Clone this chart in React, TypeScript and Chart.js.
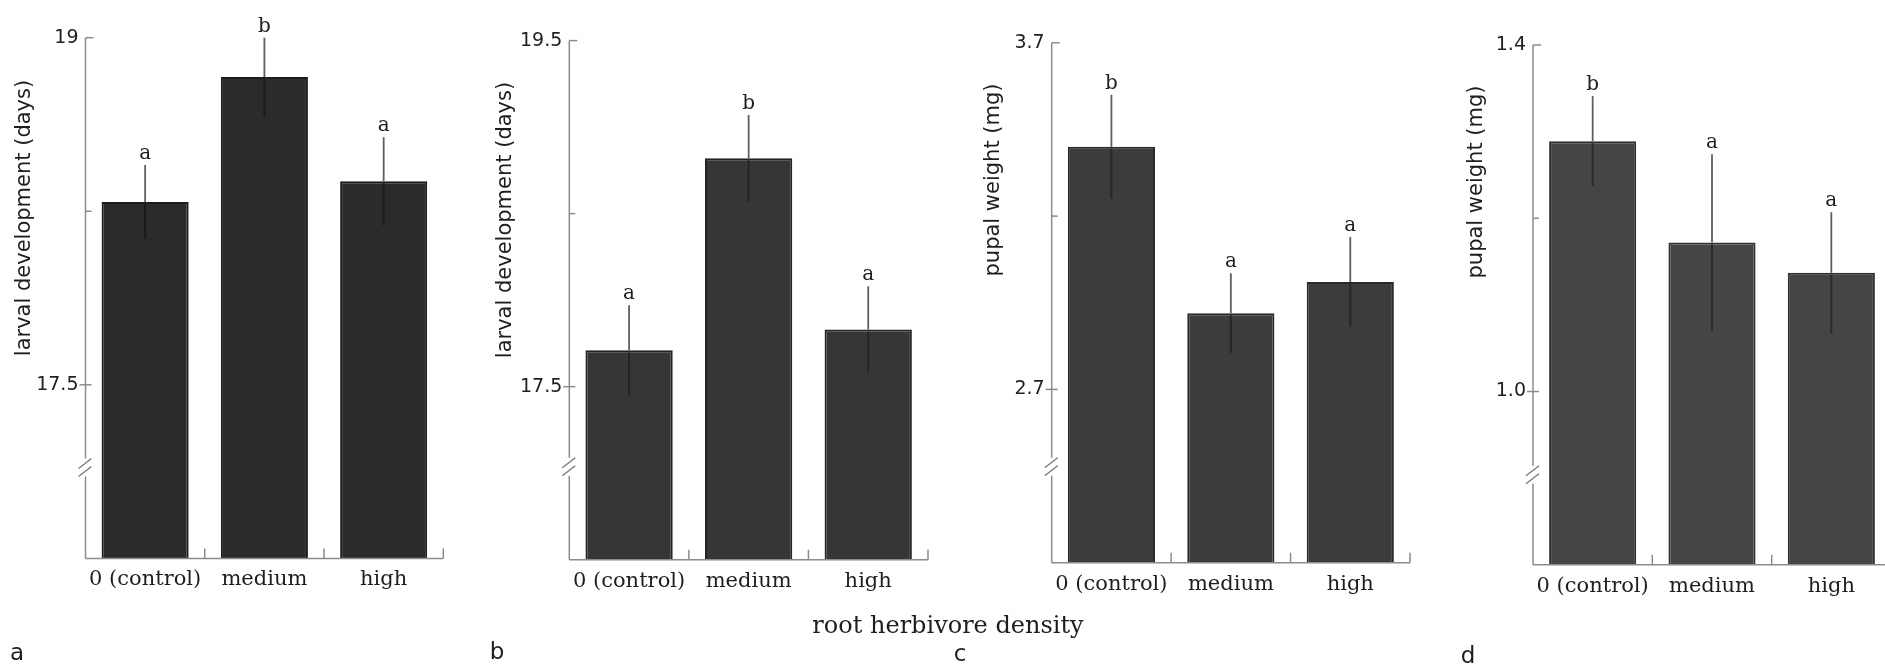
import React, { useEffect, useRef } from 'react';
import { Chart, registerables } from 'chart.js';

Chart.register(...registerables);

// ---------- data ----------
const categories = ['0 (control)', 'medium', 'high'];

const larvalA = [18.29, 18.83, 18.38];
const larvalASE = [0.16, 0.17, 0.19];
const larvalALetters = ['a', 'b', 'a'];
const larvalATicks = [16.75, 17.5, 18.25, 19];
const larvalATickLabels = ['', '17.5', '', '19'];

const larvalB = [17.71, 18.82, 17.83];
const larvalBSE = [0.26, 0.25, 0.25];
const larvalBLetters = ['a', 'b', 'a'];
const larvalBTicks = [16.5, 17.5, 18.5, 19.5];
const larvalBTickLabels = ['', '17.5', '', '19.5'];

const pupalC = [3.4, 2.92, 3.01];
const pupalCSE = [0.15, 0.115, 0.13];
const pupalCLetters = ['b', 'a', 'a'];
const pupalCTicks = [2.2, 2.7, 3.2, 3.7];
const pupalCTickLabels = ['', '2.7', '', '3.7'];

const pupalD = [1.289, 1.172, 1.137];
const pupalDSE = [0.052, 0.102, 0.07];
const pupalDLetters = ['b', 'a', 'a'];
const pupalDTicks = [0.8, 1.0, 1.2, 1.4];
const pupalDTickLabels = ['', '1.0', '', '1.4'];

const yTitleLarval = 'larval development (days)';
const yTitlePupal = 'pupal weight (mg)';
const xTitle = 'root herbivore density';

// ---------- layout / style ----------
const H = 671;
const SANS = '"DejaVu Sans", sans-serif';
const SERIF = '"DejaVu Serif", serif';
const TEXT = '#1e1e1e';
const AXIS = '#8c8c8c';

type Panel = {
  values: number[];
  se: number[];
  letters: string[];
  ticks: number[];
  tickLabels: string[];
  yTitle: string;
  panelLetter: string;
  left: number;
  width: number;
  yWidth: number;
  padTop: number;
  padRight: number;
  xHeight: number;
  barColor: string;
  barBorder: string;
  innerErr: string;
  titleX: number;
  titleY: number;
  letterX: number;
  letterY: number;
  breakFromBottom: number;
  xTitle?: { x: number; y: number };
};

const panels: Panel[] = [
  {
    values: larvalA, se: larvalASE, letters: larvalALetters, ticks: larvalATicks, tickLabels: larvalATickLabels,
    yTitle: yTitleLarval, panelLetter: 'a',
    left: 0, width: 470, yWidth: 85.5, padTop: 37.7, padRight: 26.7, xHeight: H - 558.4,
    barColor: '#2b2b2b', barBorder: '#1c1c1c', innerErr: '#1a1a1a',
    titleX: 25, titleY: 218, letterX: 17, letterY: 654, breakFromBottom: 91,
  },
  {
    values: larvalB, se: larvalBSE, letters: larvalBLetters, ticks: larvalBTicks, tickLabels: larvalBTickLabels,
    yTitle: yTitleLarval, panelLetter: 'b',
    left: 470, width: 620, yWidth: 99.3, padTop: 40.6, padRight: 620 - 458, xHeight: H - 559.7,
    barColor: '#363636', barBorder: '#242424', innerErr: '#242424',
    titleX: 36, titleY: 220, letterX: 27, letterY: 653, breakFromBottom: 93,
    xTitle: { x: 948 - 470, y: 633 },
  },
  {
    values: pupalC, se: pupalCSE, letters: pupalCLetters, ticks: pupalCTicks, tickLabels: pupalCTickLabels,
    yTitle: yTitlePupal, panelLetter: 'c',
    left: 950, width: 470, yWidth: 101.7, padTop: 42.8, padRight: 10, xHeight: H - 562.7,
    barColor: '#3c3c3c', barBorder: '#2a2a2a', innerErr: '#262626',
    titleX: 44, titleY: 180, letterX: 10, letterY: 655, breakFromBottom: 96,
  },
  {
    values: pupalD, se: pupalDSE, letters: pupalDLetters, ticks: pupalDTicks, tickLabels: pupalDTickLabels,
    yTitle: yTitlePupal, panelLetter: 'd',
    left: 1420, width: 480, yWidth: 113, padTop: 45, padRight: 9, xHeight: H - 564.8,
    barColor: '#454545', barBorder: '#303030', innerErr: '#2a2a2a',
    titleX: 57, titleY: 182, letterX: 48, letterY: 657, breakFromBottom: 90,
  },
];

function makePlugin(p: Panel) {
  return {
    id: 'decor' + p.panelLetter,
    afterDatasetsDraw(chart: any) {
      const ctx = chart.ctx as CanvasRenderingContext2D;
      const xs = chart.scales.x;
      const ys = chart.scales.y;
      ctx.save();
      ctx.lineCap = 'butt';
      p.values.forEach((v, i) => {
        const x = xs.getPixelForValue(i);
        const yBar = ys.getPixelForValue(v);
        const yTop = ys.getPixelForValue(v + p.se[i]);
        const yLow = ys.getPixelForValue(v - p.se[i]);
        ctx.strokeStyle = '#5e5e5e';
        ctx.lineWidth = 1.8;
        ctx.beginPath();
        ctx.moveTo(x, yBar);
        ctx.lineTo(x, yTop);
        ctx.stroke();
        ctx.strokeStyle = p.innerErr;
        ctx.lineWidth = 2;
        ctx.beginPath();
        ctx.moveTo(x, yBar + 2);
        ctx.lineTo(x, yLow);
        ctx.stroke();
        ctx.fillStyle = TEXT;
        ctx.font = `20px ${SERIF}`;
        ctx.textAlign = 'center';
        ctx.textBaseline = 'alphabetic';
        ctx.fillText(p.letters[i], x, yTop - 6);
      });
      ctx.restore();
    },
    afterDraw(chart: any) {
      const ctx = chart.ctx as CanvasRenderingContext2D;
      const ca = chart.chartArea;
      const xs = chart.scales.x;
      const ys = chart.scales.y;
      const ax = ca.left;
      const bottom = ca.bottom;
      const by = bottom - p.breakFromBottom;
      ctx.save();
      ctx.strokeStyle = AXIS;
      ctx.lineWidth = 1.5;
      // y axis with break
      ctx.beginPath();
      ctx.moveTo(ax, ys.getPixelForValue(p.ticks[p.ticks.length - 1]));
      ctx.lineTo(ax, by - 9);
      ctx.moveTo(ax, by + 9);
      ctx.lineTo(ax, bottom);
      ctx.stroke();
      // break marks
      ctx.strokeStyle = '#777';
      ctx.lineWidth = 1.3;
      [-4, 4].forEach((off) => {
        ctx.beginPath();
        ctx.moveTo(ax - 7, by + off + 5);
        ctx.lineTo(ax + 6, by + off - 5);
        ctx.stroke();
      });
      // y ticks
      ctx.strokeStyle = AXIS;
      ctx.lineWidth = 1.5;
      p.ticks.forEach((t, i) => {
        if (i === 0) return;
        const y = ys.getPixelForValue(t);
        ctx.beginPath();
        if (i === p.ticks.length - 1) {
          ctx.moveTo(ax, y);
          ctx.lineTo(ax + 8, y);
        } else if (p.tickLabels[i]) {
          ctx.moveTo(ax - 6, y);
          ctx.lineTo(ax + 6, y);
        } else {
          ctx.moveTo(ax, y);
          ctx.lineTo(ax + 6, y);
        }
        ctx.stroke();
      });
      // x axis
      ctx.beginPath();
      ctx.moveTo(ax, bottom);
      ctx.lineTo(ca.right, bottom);
      ctx.stroke();
      const n = p.values.length;
      for (let i = 1; i <= n; i++) {
        const bx = i < n ? (xs.getPixelForValue(i - 1) + xs.getPixelForValue(i)) / 2 : ca.right;
        ctx.beginPath();
        ctx.moveTo(bx, bottom);
        ctx.lineTo(bx, bottom - 10);
        ctx.stroke();
      }
      // y title
      ctx.fillStyle = TEXT;
      ctx.font = `21px ${SANS}`;
      ctx.textAlign = 'center';
      ctx.textBaseline = 'middle';
      ctx.save();
      ctx.translate(p.titleX, p.titleY);
      ctx.rotate(-Math.PI / 2);
      ctx.fillText(p.yTitle, 0, 0);
      ctx.restore();
      // panel letter
      ctx.font = `23px ${SANS}`;
      ctx.textAlign = 'center';
      ctx.textBaseline = 'middle';
      ctx.fillText(p.panelLetter, p.letterX, p.letterY);
      // shared x title
      if (p.xTitle) {
        ctx.font = `24px ${SERIF}`;
        ctx.textBaseline = 'alphabetic';
        ctx.fillText(xTitle, p.xTitle.x, p.xTitle.y);
      }
      ctx.restore();
    },
  };
}

function PanelChart({ p }: { p: Panel }) {
  const ref = useRef<HTMLCanvasElement>(null);
  useEffect(() => {
    const chart = new Chart(ref.current as HTMLCanvasElement, {
      type: 'bar',
      data: {
        labels: categories,
        datasets: [
          {
            data: p.values,
            backgroundColor: p.barColor,
            borderColor: p.barBorder,
            borderWidth: 2,
            barPercentage: 0.73,
            categoryPercentage: 1,
          },
        ],
      },
      options: {
        animation: false,
        responsive: false,
        devicePixelRatio: 1,
        layout: { padding: { left: 0, top: p.padTop, right: p.padRight, bottom: 0 } },
        plugins: { legend: { display: false }, tooltip: { enabled: false }, title: { display: false } },
        scales: {
          x: {
            offset: true,
            grid: { display: false, drawTicks: false },
            border: { display: false },
            ticks: {
              color: TEXT,
              font: { family: SERIF, size: 21 },
              padding: 9,
              maxRotation: 0,
              minRotation: 0,
              autoSkip: false,
            },
            afterFit: (s: any) => {
              s.height = p.xHeight;
              s.paddingLeft = 0;
              s.paddingRight = 0;
            },
          },
          y: {
            min: p.ticks[0],
            max: p.ticks[p.ticks.length - 1],
            grid: { display: false, drawTicks: false },
            border: { display: false },
            afterBuildTicks: (s: any) => {
              s.ticks = p.ticks.map((v) => ({ value: v }));
            },
            ticks: {
              color: TEXT,
              font: { family: SANS, size: 19 },
              padding: 7,
              autoSkip: false,
              callback: (_v: any, i: number) => p.tickLabels[i],
            },
            afterFit: (s: any) => {
              s.width = p.yWidth;
              s.paddingTop = 0;
              s.paddingBottom = 0;
            },
          },
        },
      },
      plugins: [makePlugin(p)],
    } as any);
    return () => chart.destroy();
  }, []);
  return (
    <canvas
      ref={ref}
      width={p.width}
      height={H}
      style={{ position: 'absolute', left: p.left, top: 0, width: p.width, height: H }}
    />
  );
}

export default function App() {
  return (
    <div
      style={{
        position: 'absolute',
        left: 0,
        top: 0,
        width: 1885,
        height: H,
        overflow: 'hidden',
        background: '#fff',
      }}
    >
      {panels.map((p) => (
        <PanelChart key={p.panelLetter} p={p} />
      ))}
    </div>
  );
}
